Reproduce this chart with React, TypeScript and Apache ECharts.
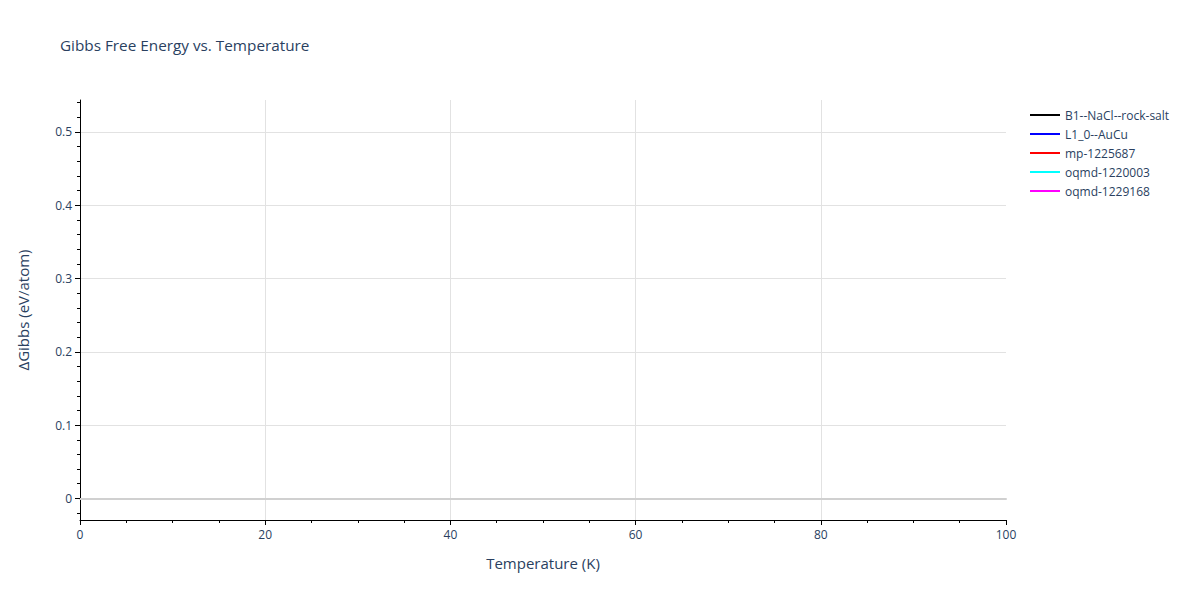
import React, { useEffect, useRef } from 'react';
import * as echarts from 'echarts';

// series shown in the legend (no points are plotted in the reference)
const seriesNames = [
  'B1--NaCl--rock-salt',
  'L1_0--AuCu',
  'mp-1225687',
  'oqmd-1220003',
  'oqmd-1229168',
];
const seriesColors = ['#000000', '#0000ff', '#ff0000', '#00ffff', '#ff00ff'];
const seriesData: [number, number][][] = [[], [], [], [], []];

const yMajorTicks = [0, 0.1, 0.2, 0.3, 0.4, 0.5];
const yMinorTicks = [
  -0.02, 0.02, 0.04, 0.06, 0.08, 0.12, 0.14, 0.16, 0.18, 0.22, 0.24, 0.26,
  0.28, 0.32, 0.34, 0.36, 0.38, 0.42, 0.44, 0.46, 0.48, 0.52, 0.54,
];
const yRange = [-0.0295, 0.5436];
const xRange = [0, 100];

const textColor = '#2a3f5f';
const font = '"Open Sans", Verdana, Arial, sans-serif';

const App: React.FC = () => {
  const chartRef = useRef<HTMLDivElement>(null);

  useEffect(() => {
    if (!chartRef.current) return;
    const chart = echarts.init(chartRef.current, undefined, { renderer: 'svg' });

    const option = {
      animation: false,
      textStyle: { fontFamily: font, color: textColor },
      title: {
        text: 'Gibbs Free Energy vs. Temperature',
        left: 55,
        top: 32,
        textStyle: { fontFamily: font, fontSize: 15.3, fontWeight: 'normal', color: textColor },
      },
      legend: {
        orient: 'vertical',
        left: 1025,
        top: 104,
        itemWidth: 30,
        itemHeight: 14,
        itemGap: 7,
        icon: 'path://M0,6 L30,6 L30,8 L0,8 Z',
        textStyle: { fontFamily: font, fontSize: 12, color: textColor },
        data: seriesNames,
      },
      grid: { left: 80, right: 194, top: 100, bottom: 80, containLabel: false },
      xAxis: [
        {
          type: 'value',
          min: xRange[0],
          max: xRange[1],
          interval: 20,
          name: 'Temperature (K)',
          nameLocation: 'middle',
          nameGap: 35,
          nameTextStyle: { fontFamily: font, fontSize: 15, color: textColor },
          axisLine: { show: true, onZero: false, lineStyle: { color: '#000', width: 1 } },
          axisTick: { show: true, inside: false, length: 5, lineStyle: { color: '#000' } },
          minorTick: { show: true, splitNumber: 4, length: 3, lineStyle: { color: '#000' } },
          axisLabel: { fontFamily: font, fontSize: 12, color: textColor, margin: 8 },
          splitLine: {
            show: true,
            showMinLine: false,
            showMaxLine: false,
            lineStyle: { color: '#e2e2e2', width: 1 },
          },
        },
        {
          // zero line
          type: 'value',
          min: xRange[0],
          max: xRange[1],
          position: 'bottom',
          axisLine: { show: true, onZero: true, onZeroAxisIndex: 0, lineStyle: { color: '#d0d0d0', width: 2 } },
          axisTick: { show: false },
          axisLabel: { show: false },
          splitLine: { show: false },
        },
      ],
      yAxis: [
        {
          type: 'value',
          min: yRange[0],
          max: yRange[1],
          position: 'left',
          name: 'ΔGibbs (eV/atom)',
          nameLocation: 'middle',
          nameGap: 50,
          nameTextStyle: { fontFamily: font, fontSize: 15, color: textColor },
          axisLine: { show: true, onZero: false, lineStyle: { color: '#000', width: 1 } },
          axisTick: { show: true, length: 5, customValues: yMajorTicks, lineStyle: { color: '#000' } },
          axisLabel: {
            fontFamily: font,
            fontSize: 12,
            color: textColor,
            margin: 8,
            customValues: yMajorTicks,
          },
          splitLine: {
            show: true,
            lineStyle: { color: '#e2e2e2', width: 1 },
          },
        },
        {
          // minor ticks
          type: 'value',
          min: yRange[0],
          max: yRange[1],
          position: 'left',
          offset: 0,
          axisLine: { show: false },
          axisTick: { show: true, length: 3, customValues: yMinorTicks, lineStyle: { color: '#000' } },
          axisLabel: { show: false },
          splitLine: { show: false },
        },
      ],
      series: seriesNames.map((name, i) => ({
        name,
        type: 'line',
        xAxisIndex: 0,
        yAxisIndex: 0,
        showSymbol: false,
        symbol: 'none',
        lineStyle: { color: seriesColors[i], width: 2 },
        itemStyle: { color: seriesColors[i] },
        data: seriesData[i],
      })),
    };

    chart.setOption(option);
    return () => {
      chart.dispose();
    };
  }, []);

  return (
    <div
      ref={chartRef}
      style={{ position: 'fixed', left: 0, top: 0, width: 1200, height: 600, background: '#fff' }}
    />
  );
};

export default App;
